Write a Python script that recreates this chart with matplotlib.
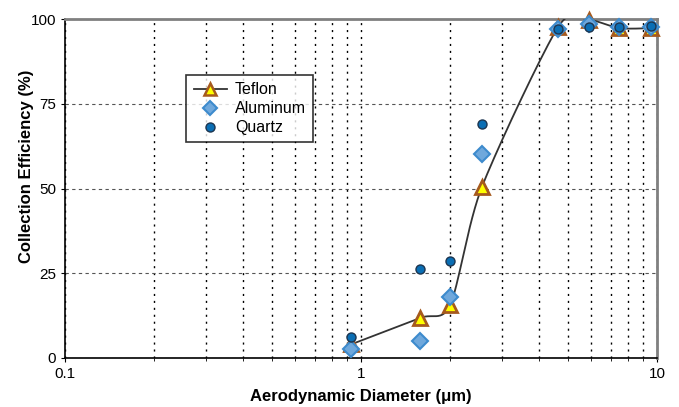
import numpy as np
import matplotlib.pyplot as plt

plt.rcParams['font.family'] = ['Liberation Sans', 'DejaVu Sans']

# diameters (um) and collection efficiencies (%)
diam = [0.925, 1.58, 2.0, 2.56, 4.63, 5.9, 7.44, 9.54]
teflon = [4.0, 11.8, 15.6, 50.4, 97.6, 99.7, 97.3, 97.3]
aluminum = [2.7, 5.0, 18.0, 60.2, 97.0, 98.5, 97.7, 97.7]
quartz = [6.2, 26.3, 28.6, 69.0, 97.0, 97.6, 97.6, 97.8]


def smooth(xs, ys, n=30, k=0.4):
    # cardinal spline through the points, in log-x space (like a spreadsheet smoothed line)
    lx = np.log10(xs)
    y = np.array(ys, dtype=float)
    px = np.concatenate([[lx[0]], lx, [lx[-1]]])
    py = np.concatenate([[y[0]], y, [y[-1]]])
    outx, outy = [], []
    t = np.linspace(0, 1, n)
    h00 = 2 * t ** 3 - 3 * t ** 2 + 1
    h10 = t ** 3 - 2 * t ** 2 + t
    h01 = -2 * t ** 3 + 3 * t ** 2
    h11 = t ** 3 - t ** 2
    for i in range(1, len(px) - 2):
        for arr, out in ((px, outx), (py, outy)):
            p0, p1, p2, p3 = arr[i - 1], arr[i], arr[i + 1], arr[i + 2]
            m1 = k * (p2 - p0)
            m2 = k * (p3 - p1)
            out.extend(h00 * p1 + h10 * m1 + h01 * p2 + h11 * m2)
    return 10 ** np.array(outx), np.array(outy)


fig = plt.figure(figsize=(6.79, 4.07), dpi=100)
ax = fig.add_axes([0.0957, 0.1204, 0.8719, 0.8329])

sx, sy = smooth(diam, teflon)
ax.plot(sx, sy, color='#333333', lw=1.3, zorder=3)

ax.plot(diam, teflon, linestyle='none', marker='^', ms=10, mfc='#FFFF00',
        mec='#A65A1E', mew=2, zorder=4, clip_on=False)
ax.plot(diam, aluminum, linestyle='none', marker='D', ms=8, mfc='#6FA8DC',
        mec='#3D8BCD', mew=1.5, zorder=5, clip_on=False)
ax.plot(diam, quartz, linestyle='none', marker='o', ms=6.5, mfc='#0A6EB4',
        mec='#1C3550', mew=1, zorder=6, clip_on=False)

# legend proxies
h1, = ax.plot([], [], color='#333333', lw=1.3, marker='^', ms=9, mfc='#FFFF00',
              mec='#A65A1E', mew=1.8)
h2, = ax.plot([], [], linestyle='none', marker='D', ms=7, mfc='#6FA8DC',
              mec='#3D8BCD', mew=1.5)
h3, = ax.plot([], [], linestyle='none', marker='o', ms=6.5, mfc='#0A6EB4',
              mec='#1C3550', mew=1)
leg = ax.legend([h1, h2, h3], ['Teflon', 'Aluminum', 'Quartz'],
                loc='upper left', bbox_to_anchor=(0.205, 0.835), fontsize=11.5,
                frameon=True, fancybox=False, handlelength=2.1,
                borderpad=0.45, labelspacing=0.25, handletextpad=0.5,
                borderaxespad=0)
leg.get_frame().set_edgecolor('black')
leg.get_frame().set_linewidth(1.2)

ax.set_xscale('log')
ax.set_xlim(0.1, 10)
ax.set_ylim(0, 100)
ax.set_yticks([0, 25, 50, 75, 100])
ax.set_xticks([0.1, 1, 10])
ax.set_xticklabels(['0.1', '1', '10'])
ax.xaxis.set_minor_formatter(plt.NullFormatter())

ax.grid(True, axis='x', which='both', color='black', linestyle=(0, (1.5, 3.5)), lw=1)
ax.grid(True, axis='y', which='major', color='#555555', linestyle=(0, (3, 3)), lw=0.8)
ax.set_axisbelow(True)

ax.tick_params(which='major', length=3, labelsize=11)
ax.tick_params(which='minor', length=2)

for s in ('left', 'bottom'):
    ax.spines[s].set_color('black')
    ax.spines[s].set_linewidth(1.2)
for s in ('top', 'right'):
    ax.spines[s].set_color('#808080')
    ax.spines[s].set_linewidth(2)

ax.set_xlabel('Aerodynamic Diameter (\u03bcm)', fontsize=12, fontweight='bold', labelpad=6)
ax.set_ylabel('Collection Efficiency (%)', fontsize=12, fontweight='bold')
ax.yaxis.set_label_coords(-0.052, 0.566)

fig.savefig('out.png', dpi=100)
